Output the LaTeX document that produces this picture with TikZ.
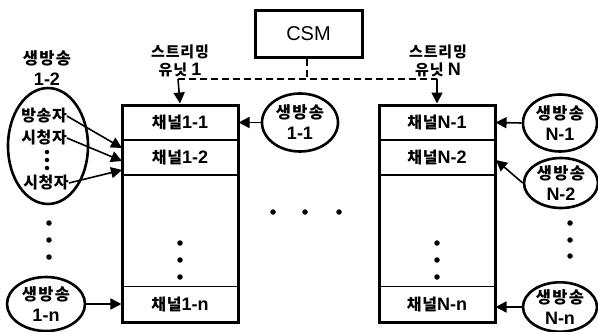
\documentclass[tikz,border=0pt]{standalone}
\usepackage{fontspec}
\setmainfont{Noto Sans CJK KR}
\newfontfamily\latinfont{Liberation Sans}
\newcommand\lf{\latinfont\fontsize{18}{21}\selectfont}
\usetikzlibrary{arrows.meta,shapes.geometric}
\tikzset{
  kor/.style={font=\fontsize{16.5}{21}\selectfont\bfseries\addfontfeature{LetterSpace=8}, inner sep=0pt, align=center},
  rowtext/.style={font=\fontsize{16}{21}\selectfont\bfseries\addfontfeature{LetterSpace=4}},
  rowbox/.style={draw, line width=1.1pt, minimum width=116pt, minimum height=35pt, inner sep=0pt, kor, rowtext},
  unitbox/.style={draw, line width=3pt, minimum width=116pt, minimum height=217pt, inner sep=0pt},
  bcast/.style={ellipse, draw, line width=2.6pt, inner sep=0pt, kor},
  arr/.style={line width=1.6pt, -{Triangle[length=11pt,width=11pt]}},
  ctrl/.style={line width=2pt, dash pattern=on 7pt off 4pt},
  dotmark/.style={circle, fill, inner sep=0pt, minimum size=5.5pt}
}
\begin{document}
\begin{tikzpicture}[x=1pt,y=-1pt]
\useasboundingbox (0,0) rectangle (598,332);
% CSM
\node[draw, line width=3pt, minimum width=107pt, minimum height=47pt, inner sep=0pt,
      font=\latinfont\fontsize{20}{22}\selectfont] (csm) at (308.5,33.5) {CSM};
% unit labels
\node[kor, font=\fontsize{15}{18}\selectfont\bfseries\addfontfeature{LetterSpace=6}] (lab1) at (180,61) {스트리밍\\유닛 {\lf 1}};
\node[kor, font=\fontsize{15}{18}\selectfont\bfseries\addfontfeature{LetterSpace=6}] (labN) at (438,61) {스트리밍\\유닛 {\lf N}};
% unit 1
\node[rowbox] (c11) at (180,122.5) {채널{\lf 1-1}};
\node[rowbox] (c12) at (180,157.5) {채널{\lf 1-2}};
\node[rowbox] (c1n) at (180,304) {채널{\lf 1-n}};
\node[unitbox] (u1) at (180,213.5) {};
\node[dotmark] (d1a) at (180,243) {};
\node[dotmark] (d1b) at (180,260) {};
\node[dotmark] (d1c) at (180,277) {};
% unit N
\node[rowbox] (cN1) at (437,122.5) {채널{\lf N-1}};
\node[rowbox] (cN2) at (437,157.5) {채널{\lf N-2}};
\node[rowbox] (cNn) at (437,304) {채널{\lf N-n}};
\node[unitbox] (uN) at (437,213.5) {};
\node[dotmark] (dNa) at (437,243) {};
\node[dotmark] (dNb) at (437,260) {};
\node[dotmark] (dNc) at (437,277) {};
% middle dots
\node[dotmark] (m1) at (273,212) {};
\node[dotmark] (m2) at (305,212) {};
\node[dotmark] (m3) at (339,212) {};
% control lines
\coordinate (j1) at (178,79);
\coordinate (jN) at (437,79);
\coordinate (jc) at (307,79);
\draw[ctrl] (csm.south -| jc) -- (jc);
\draw[ctrl] (j1) -- (jN);
\draw[arr] (j1) -- (u1.north);
\draw[arr] (jN) -- (uN.north);
% left group
\node[kor] (lab12) at (47,68) {생방송\\{\lf 1-2}};
\node[bcast, minimum width=80pt, minimum height=116pt] (g12) at (48,146) {};
\node[kor, rowtext] (bs) at (44,116) {방송자};
\node[kor, rowtext] (v1) at (44,138) {시청자};
\node[dotmark, minimum size=4.5pt] (gd1) at (47,152) {};
\node[dotmark, minimum size=4.5pt] (gd2) at (47,160) {};
\node[dotmark, minimum size=4.5pt] (gd3) at (47,168) {};
\node[kor, rowtext] (v2) at (46,183) {시청자};
\coordinate (t1) at (122,148);
\coordinate (t2) at (122,161);
\coordinate (t3) at (122,170);
\draw[arr] (bs.east) -- (t1);
\draw[arr] (v1.east) -- (t2);
\draw[arr] (v2.east) -- (t3);
\node[dotmark] (ld1) at (49,223) {};
\node[dotmark] (ld2) at (49,240) {};
\node[dotmark] (ld3) at (49,257) {};
\node[bcast, minimum width=78pt, minimum height=54pt] (g1n) at (46,304) {생방송\\{\lf 1-n}};
\draw[arr] (g1n.east) -- (c1n.west);
% broadcast 1-1
\node[bcast, minimum width=76pt, minimum height=58pt] (g11) at (300,122.5) {생방송\\{\lf 1-1}};
\draw[arr] (g11.west) -- (c11.east);
% right group
\node[bcast, minimum width=74pt, minimum height=57pt] (gN1) at (560,123) {생방송\\{\lf N-1}};
\node[bcast, minimum width=74pt, minimum height=50pt] (gN2) at (561,183) {생방송\\{\lf N-2}};
\node[bcast, minimum width=74pt, minimum height=48pt] (gNn) at (560,307) {생방송\\{\lf N-n}};
\coordinate (tN2) at (496,160);
\draw[arr] (gN1.west) -- (cN1.east);
\draw[arr] (gN2.west) -- (tN2);
\draw[arr] (gNn.west) -- (cNn.east |- gNn.west);
\node[dotmark] (rd1) at (570,223) {};
\node[dotmark] (rd2) at (570,240) {};
\node[dotmark] (rd3) at (570,256) {};
\end{tikzpicture}
\end{document}
